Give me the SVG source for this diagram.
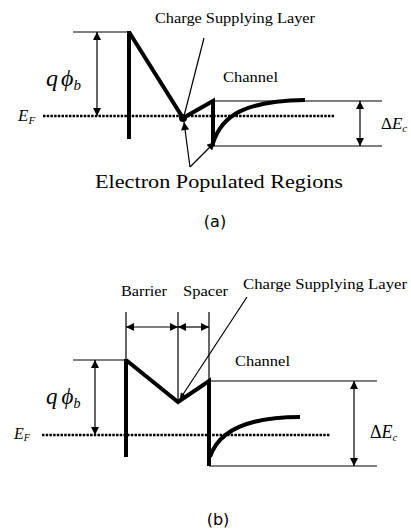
<svg xmlns="http://www.w3.org/2000/svg" width="411" height="530" viewBox="0 0 411 530">
<style>
.thick{fill:none;stroke:#000;stroke-width:4;stroke-linejoin:miter}
.thin{fill:none;stroke:#000;stroke-width:1.2}
.ef{fill:none;stroke:#000;stroke-width:2.4;stroke-dasharray:2.5 1.2}
.lbl{font-family:"Liberation Serif",serif;fill:#000}
.it{font-family:"Liberation Serif",serif;font-style:italic;fill:#000}
.cap{font-family:"DejaVu Sans","Liberation Sans",sans-serif;fill:#000}
</style>
<defs>
<marker id="ah" viewBox="0 0 10 10" refX="10" refY="5" markerWidth="9" markerHeight="8" markerUnits="userSpaceOnUse" orient="auto-start-reverse">
<path d="M0,0 L10,5 L0,10 z" fill="#000"/>
</marker>
<marker id="ahs" viewBox="0 0 10 10" refX="10" refY="5" markerWidth="7" markerHeight="6" markerUnits="userSpaceOnUse" orient="auto-start-reverse">
<path d="M0,0 L10,5 L0,10 z" fill="#000"/>
</marker>
</defs>
<rect width="411" height="530" fill="#fff"/>

<!-- Diagram (a) -->
<g id="a-band">
<line class="thin" x1="73" y1="32" x2="129" y2="32"/>
<line class="thick" x1="129" y1="31" x2="129" y2="139"/>
<polyline class="thick" points="129,32 183,118 213,101 213,146"/>
<circle cx="183" cy="118" r="4" fill="#000"/>
<line class="thin" x1="213" y1="101" x2="382" y2="101"/>
<line class="thin" x1="213" y1="146" x2="382" y2="146"/>
<path class="thick" d="M213,143 C222,115 245,101 305,100"/>
</g>
<g id="a-ef">
<line class="ef" x1="43" y1="116" x2="335" y2="116"/>
<text class="it" x="18" y="121" font-size="17">E<tspan font-size="11" dy="3">F</tspan></text>
</g>
<g id="a-phi">
<text class="it" x="46" y="86" font-size="24">q<tspan dx="3">ϕ</tspan><tspan font-size="15" dy="4">b</tspan></text>
</g>
<g id="a-dec">
<text x="381" y="129" font-size="17"><tspan class="lbl">Δ</tspan><tspan class="it">E</tspan><tspan class="it" font-size="11" dy="3">c</tspan></text>
</g>
<g id="a-labels">
<text class="lbl" x="155" y="23" font-size="14" textLength="160" lengthAdjust="spacingAndGlyphs">Charge Supplying Layer</text>
<text class="lbl" x="223" y="82" font-size="14" textLength="55" lengthAdjust="spacingAndGlyphs">Channel</text>
<text class="lbl" x="95" y="188" font-size="18.5" textLength="248" lengthAdjust="spacingAndGlyphs">Electron Populated Regions</text>
<text class="cap" x="215" y="227" font-size="16" text-anchor="middle">(a)</text>
</g>

<!-- Diagram (b) -->
<g id="b-band">
<line class="thin" x1="73" y1="360" x2="126" y2="360"/>
<line class="thick" x1="126" y1="359" x2="126" y2="457"/>
<polyline class="thick" points="126,360 178,402 209,381 209,466"/>
<line class="thin" x1="209" y1="381" x2="377" y2="381"/>
<line class="thin" x1="209" y1="466" x2="377" y2="466"/>
<path class="thick" d="M210,457 C218,432 245,417 300,417"/>
<line class="thin" x1="126" y1="312" x2="126" y2="360"/>
<line class="thin" x1="178" y1="312" x2="178" y2="402"/>
<line class="thin" x1="209" y1="312" x2="209" y2="381"/>
</g>
<g id="b-ef">
<line class="ef" x1="42" y1="435" x2="330" y2="435"/>
<text class="it" x="14" y="439" font-size="16">E<tspan font-size="10" dy="2">F</tspan></text>
</g>
<g id="b-phi">
<text class="it" x="46" y="404" font-size="23">q<tspan dx="4">ϕ</tspan><tspan font-size="14" dy="4">b</tspan></text>
</g>
<g id="b-dec">
<text x="370" y="438" font-size="18"><tspan class="lbl">Δ</tspan><tspan class="it">E</tspan><tspan class="it" font-size="11" dy="3">c</tspan></text>
</g>
<g id="b-labels">
<text class="lbl" x="121" y="296" font-size="14" textLength="46" lengthAdjust="spacingAndGlyphs">Barrier</text>
<text class="lbl" x="183" y="296" font-size="14" textLength="45" lengthAdjust="spacingAndGlyphs">Spacer</text>
<text class="lbl" x="243" y="289" font-size="14" textLength="164" lengthAdjust="spacingAndGlyphs">Charge Supplying Layer</text>
<text class="lbl" x="235" y="366" font-size="14" textLength="55" lengthAdjust="spacingAndGlyphs">Channel</text>
<text class="cap" x="218" y="525" font-size="16" text-anchor="middle">(b)</text>
</g>

<!-- Connectors -->
<g id="connectors">
<line class="thin" x1="97" y1="32" x2="97" y2="116" marker-start="url(#ah)" marker-end="url(#ah)"/>
<line class="thin" x1="360" y1="101" x2="360" y2="146" marker-start="url(#ah)" marker-end="url(#ah)"/>
<line class="thin" x1="204" y1="38" x2="184" y2="116"/>
<line class="thin" x1="190" y1="167" x2="184" y2="122" marker-end="url(#ah)"/>
<line class="thin" x1="190" y1="167" x2="215" y2="142" marker-end="url(#ah)"/>
<line class="thin" x1="95" y1="360" x2="95" y2="435" marker-start="url(#ah)" marker-end="url(#ah)"/>
<line class="thin" x1="354" y1="381" x2="354" y2="466" marker-start="url(#ah)" marker-end="url(#ah)"/>
<line class="thin" x1="126" y1="327" x2="178" y2="327" marker-start="url(#ah)" marker-end="url(#ah)"/>
<line class="thin" x1="178" y1="327" x2="209" y2="327" marker-start="url(#ah)" marker-end="url(#ah)"/>
<line class="thin" x1="247" y1="297" x2="180" y2="399" marker-end="url(#ahs)"/>
</g>
</svg>
